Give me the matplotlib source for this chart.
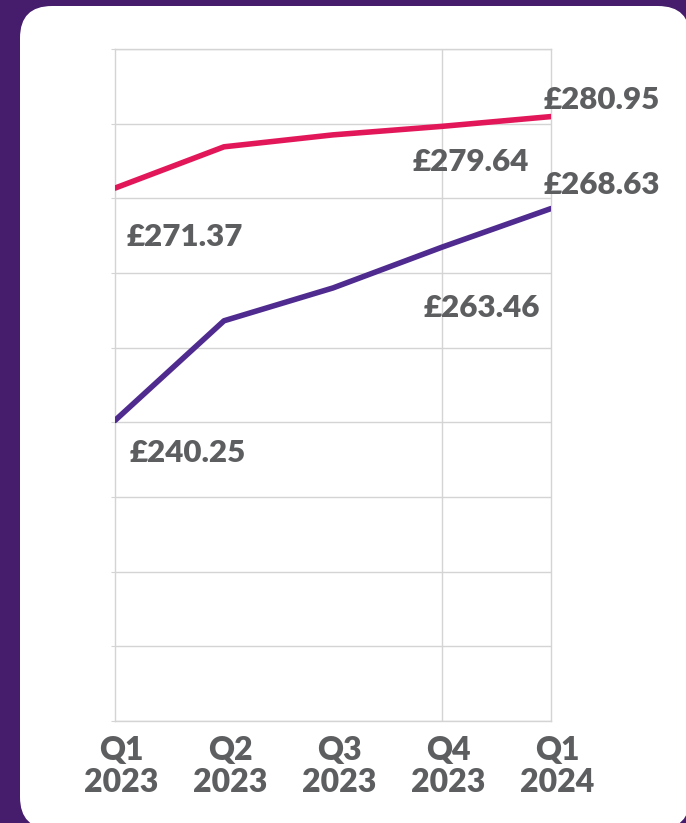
import matplotlib.pyplot as plt
import matplotlib.transforms as mtransforms
from matplotlib.patches import FancyBboxPatch

# quarterly values (GBP)
quarters = ["Q1\n2023", "Q2\n2023", "Q3\n2023", "Q4\n2023", "Q1\n2024"]
red_values = [271.37, 276.9, 278.5, 279.64, 280.95]
purple_values = [240.25, 253.6, 258.0, 263.46, 268.63]

# which points get a label, and where (pixel offsets from the point)
red_labels = {0: (70, -49), 3: (29, -36), 4: (51, 17)}
purple_labels = {0: (73, -33), 3: (40, -61), 4: (51, 24)}

BG = "#461c6c"
RED = "#e2175a"
PURPLE = "#4f2b8f"
TEXT = "#5d5e60"
GRID = "#d4d4d4"

plt.rcParams['font.family'] = ['Lato', 'DejaVu Sans']

fig = plt.figure(figsize=(6.86, 8.23), dpi=100)
fig.patch.set_facecolor(BG)

# white rounded card behind the chart
card = FancyBboxPatch((0.20, -0.06), 6.70, 8.23, boxstyle="round,pad=0,rounding_size=0.32",
                      transform=fig.dpi_scale_trans, facecolor="white", edgecolor="none", zorder=-1)
fig.patches.append(card)

ax = fig.add_axes([115 / 686, 1 - 721 / 823, 436 / 686, 672 / 823])
ax.set_facecolor("none")

x = list(range(len(quarters)))
ax.plot(x, red_values, color=RED, lw=4, solid_capstyle="round", zorder=3)
ax.plot(x, purple_values, color=PURPLE, lw=4, solid_capstyle="round", zorder=3)

for series, labels in ((red_values, red_labels), (purple_values, purple_labels)):
    for i, off in labels.items():
        ax.annotate(f"£{series[i]:.2f}", (x[i], series[i]), xytext=off, textcoords="offset pixels",
                    ha="center", va="center", fontsize=22.5, fontweight=800, color=TEXT,
                    annotation_clip=False, zorder=4)

ax.set_xlim(0, 4)
ax.set_ylim(200, 290)
ax.set_yticks(range(200, 291, 10))
ax.set_yticklabels([])
ax.grid(axis="y", color=GRID, lw=1)
ax.axvline(3, color=GRID, lw=1, zorder=1)
for s in ax.spines.values():
    s.set_color(GRID)
    s.set_linewidth(1)

ax.set_xticks(x)
ax.set_xticklabels(quarters, fontsize=23, fontweight=800, color=TEXT, linespacing=1.13)
ax.tick_params(axis="x", length=0, pad=11)
ax.tick_params(axis="y", length=3, color=GRID)
shift = mtransforms.ScaledTranslation(6 / 100, 0, fig.dpi_scale_trans)
for lbl in ax.get_xticklabels():
    lbl.set_transform(lbl.get_transform() + shift)

fig.savefig("out.png", dpi=100, facecolor=BG)
